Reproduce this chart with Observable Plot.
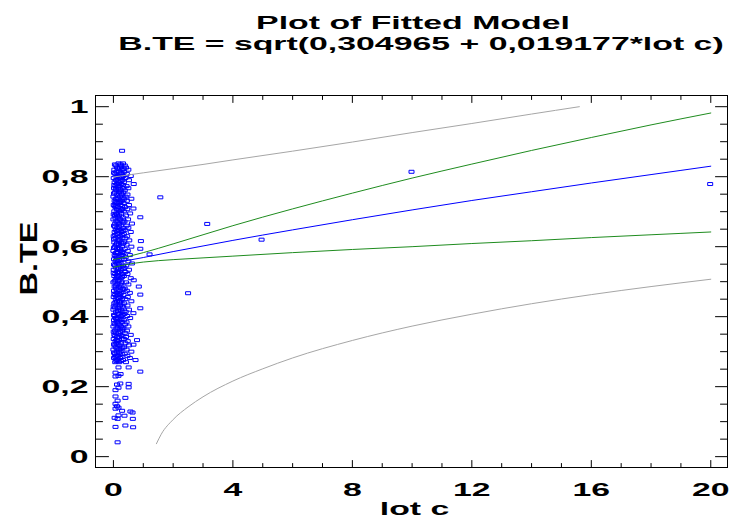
<!DOCTYPE html>
<html><head><meta charset="utf-8">
<script src="https://cdn.jsdelivr.net/npm/d3@7"></script>
<script src="https://cdn.jsdelivr.net/npm/@observablehq/plot@0.6"></script>
<style>
body{margin:0;background:#fff;}
#wrap{width:730px;height:519px;position:relative;overflow:hidden;font-family:"Liberation Sans",Arial,sans-serif;background:#fff;}
#title{position:relative;height:70px;}
.tl{position:absolute;white-space:nowrap;font-weight:bold;font-size:19px;line-height:19px;color:#000;transform:translateX(-50%) scaleX(1.78);transform-origin:center;}
#chart svg{display:block;}
</style></head><body>
<div id="wrap"><div id="title"><div class="tl" id="t1"></div><div class="tl" id="t2"></div></div><div id="chart"></div></div>
<script>
const titleLines = ["Plot of Fitted Model", "B.TE = sqrt(0,304965 + 0,019177*lot c)"];
const xLabel = "lot c";
const yLabel = "B.TE";
const xMajor = [0, 4, 8, 12, 16, 20];
const xMinor = [1, 2, 3, 5, 6, 7, 9, 10, 11, 13, 14, 15, 17, 18, 19];
const yMajor = [0, 0.2, 0.4, 0.6, 0.8, 1];
const yMinor = [0.05, 0.1, 0.15, 0.25, 0.3, 0.35, 0.45, 0.5, 0.55, 0.65, 0.7, 0.75, 0.85, 0.9, 0.95];

// fitted model and limits
const curveX = [0, 0.5, 1, 2, 3, 4, 6, 8, 10, 12, 14, 16, 18, 20];
const fitted = [0.552, 0.561, 0.569, 0.586, 0.602, 0.618, 0.648, 0.677, 0.705, 0.732, 0.757, 0.782, 0.806, 0.830];
const upperConf = [0.563, 0.572, 0.583, 0.608, 0.634, 0.660, 0.708, 0.753, 0.796, 0.836, 0.875, 0.912, 0.948, 0.982];
const lowerConf = [0.541, 0.550, 0.556, 0.563, 0.568, 0.573, 0.583, 0.592, 0.600, 0.609, 0.617, 0.626, 0.634, 0.642];
const upperPredX = [0, 0.5, 1, 2, 3, 4, 6, 8, 10, 12, 14, 15.6];
const upperPred = [0.799, 0.805, 0.811, 0.823, 0.835, 0.848, 0.873, 0.899, 0.926, 0.952, 0.979, 1.0];
const lowerPredX = [1.44, 1.6, 2, 2.5, 3, 4, 5, 6, 8, 10, 12, 14, 16, 18, 20];
const lowerPred = [0.037, 0.064, 0.106, 0.142, 0.171, 0.216, 0.251, 0.282, 0.332, 0.373, 0.407, 0.437, 0.463, 0.486, 0.507];

// observations [lot c, B.TE]
const observations = [
[0.29,0.874],[0.17,0.838],[0.32,0.838],[0.08,0.832],[0.26,0.832],[0.38,0.832],
[0.12,0.826],[0.22,0.826],[0.42,0.826],[0.03,0.820],[0.30,0.820],[0.50,0.820],
[0.10,0.814],[0.20,0.814],[0.36,0.814],[0.06,0.808],[0.27,0.808],[0.45,0.808],
[0.15,0.802],[0.33,0.802],[0.58,0.802],[0.01,0.796],[0.22,0.796],[0.40,0.796],
[0.09,0.790],[0.30,0.790],[0.52,0.790],[0.04,0.784],[0.18,0.784],[0.35,0.784],
[0.12,0.779],[0.26,0.779],[0.68,0.779],[0.07,0.773],[0.21,0.773],[0.44,0.773],
[0.02,0.767],[0.16,0.767],[0.31,0.767],[0.50,0.767],[0.10,0.761],[0.25,0.761],[0.38,0.761],
[0.05,0.755],[0.19,0.755],[0.33,0.755],[0.13,0.749],[0.28,0.749],[0.47,0.749],
[0.00,0.743],[0.22,0.743],[0.41,0.743],[0.08,0.737],[0.17,0.737],[0.36,0.737],[0.60,0.737],
[0.04,0.731],[0.27,0.731],[0.45,0.731],[0.11,0.725],[0.20,0.725],[0.34,0.725],
[0.01,0.719],[0.24,0.719],[0.52,0.719],[0.07,0.713],[0.16,0.713],[0.39,0.713],[0.67,0.709],
[0.12,0.707],[0.30,0.707],[0.46,0.707],[0.03,0.701],[0.21,0.701],[0.35,0.701],
[0.09,0.695],[0.26,0.695],[0.56,0.695],[0.05,0.689],[0.18,0.689],[0.42,0.689],
[0.90,0.684],[0.14,0.684],[0.31,0.684],[0.00,0.678],[0.23,0.678],[0.49,0.678],
[0.10,0.672],[0.28,0.672],[0.37,0.672],[0.06,0.666],[0.19,0.666],[0.62,0.666],
[0.02,0.660],[0.25,0.660],[0.44,0.660],[0.13,0.654],[0.33,0.654],[0.50,0.654],
[0.08,0.648],[0.20,0.648],[0.38,0.648],[0.04,0.642],[0.27,0.642],[0.58,0.642],
[0.11,0.636],[0.17,0.636],[0.35,0.636],[0.01,0.630],[0.23,0.630],[0.46,0.630],
[0.07,0.624],[0.30,0.624],[0.40,0.624],[0.14,0.618],[0.21,0.618],[0.53,0.618],[0.92,0.616],
[0.03,0.612],[0.26,0.612],[0.36,0.612],[0.09,0.606],[0.18,0.606],[0.44,0.606],
[0.05,0.600],[0.29,0.600],[0.60,0.600],[0.12,0.594],[0.22,0.594],[0.38,0.594],[0.90,0.594],
[0.00,0.588],[0.25,0.588],[0.48,0.588],[0.08,0.582],[0.16,0.582],[0.34,0.582],[1.21,0.578],
[0.04,0.576],[0.30,0.576],[0.55,0.576],[0.11,0.570],[0.20,0.570],[0.41,0.570],
[0.02,0.564],[0.27,0.564],[0.36,0.564],[0.07,0.558],[0.15,0.558],[0.50,0.558],
[0.13,0.552],[0.24,0.552],[0.62,0.552],[0.05,0.546],[0.32,0.546],[0.43,0.546],
[0.09,0.540],[0.19,0.540],[0.37,0.540],[0.01,0.534],[0.26,0.534],[0.52,0.534],
[0.12,0.528],[0.22,0.528],[0.40,0.528],[0.06,0.522],[0.30,0.522],[0.47,0.522],
[0.03,0.516],[0.17,0.516],[0.35,0.516],[0.10,0.510],[0.25,0.510],[0.58,0.510],
[0.07,0.504],[0.20,0.504],[0.68,0.504],[0.00,0.498],[0.28,0.498],[0.42,0.498],
[0.13,0.492],[0.23,0.492],[0.50,0.492],[0.04,0.486],[0.18,0.486],[0.85,0.486],
[0.09,0.480],[0.31,0.480],[0.38,0.480],[0.02,0.474],[0.21,0.474],[0.45,0.474],[2.50,0.467],
[0.11,0.468],[0.26,0.468],[0.55,0.468],[0.90,0.463],[0.06,0.462],[0.16,0.462],[0.34,0.462],
[0.01,0.456],[0.24,0.456],[0.48,0.456],[0.08,0.450],[0.29,0.450],[0.40,0.450],
[0.12,0.444],[0.19,0.444],[0.60,0.444],[0.03,0.438],[0.27,0.438],[0.36,0.438],
[0.10,0.432],[0.22,0.432],[0.47,0.432],[0.05,0.426],[0.17,0.426],[0.33,0.426],[0.90,0.424],
[0.00,0.420],[0.25,0.420],[0.52,0.420],[0.09,0.414],[0.30,0.414],[0.41,0.414],[0.67,0.410],
[0.13,0.408],[0.20,0.408],[0.37,0.408],[0.04,0.402],[0.26,0.402],[0.46,0.402],
[0.07,0.396],[0.16,0.396],[0.56,0.396],[0.02,0.390],[0.23,0.390],[0.35,0.390],
[0.11,0.384],[0.28,0.384],[0.44,0.384],[0.06,0.378],[0.19,0.378],[0.39,0.378],
[0.00,0.372],[0.25,0.372],[0.50,0.372],[0.10,0.366],[0.21,0.366],[0.33,0.366],
[0.05,0.360],[0.30,0.360],[0.45,0.360],[0.08,0.354],[0.17,0.354],[0.38,0.354],
[0.03,0.348],[0.24,0.348],[0.58,0.348],[0.12,0.342],[0.20,0.342],[0.42,0.342],
[0.01,0.336],[0.27,0.336],[0.36,0.336],[0.79,0.333],[0.07,0.330],[0.15,0.330],[0.48,0.330],
[0.10,0.324],[0.26,0.324],[0.40,0.324],[0.67,0.320],[0.04,0.318],[0.20,0.318],[0.52,0.318],
[0.08,0.312],[0.30,0.312],[0.35,0.312],[0.00,0.306],[0.18,0.306],[0.44,0.306],
[0.11,0.300],[0.24,0.300],[0.60,0.300],[0.05,0.294],[0.28,0.294],[0.38,0.294],
[0.09,0.288],[0.16,0.288],[0.47,0.288],[0.02,0.282],[0.22,0.282],[0.55,0.282],
[0.13,0.276],[0.32,0.276],[0.74,0.276],[0.06,0.270],[0.19,0.270],[0.42,0.270],
[0.05,0.835],[0.24,0.835],[0.16,0.823],[0.34,0.823],[0.02,0.811],[0.25,0.811],
[0.11,0.799],[0.28,0.799],[0.14,0.787],[0.24,0.787],[0.03,0.776],[0.32,0.776],
[0.08,0.764],[0.21,0.764],[0.02,0.752],[0.26,0.752],[0.13,0.740],[0.31,0.740],
[0.08,0.728],[0.23,0.728],[0.04,0.716],[0.29,0.716],[0.17,0.704],[0.25,0.704],
[0.01,0.692],[0.12,0.692],[0.07,0.681],[0.20,0.681],[0.14,0.669],[0.33,0.669],
[0.05,0.657],[0.18,0.657],[0.13,0.645],[0.31,0.645],[0.06,0.633],[0.28,0.633],
[0.02,0.621],[0.18,0.621],[0.12,0.609],[0.32,0.609],[0.02,0.597],[0.17,0.597],
[0.13,0.585],[0.29,0.585],[0.07,0.573],[0.24,0.573],[0.10,0.561],[0.20,0.561],
[0.02,0.549],[0.18,0.549],[0.15,0.537],[0.31,0.537],[0.01,0.525],[0.16,0.525],
[0.13,0.513],[0.29,0.513],[0.04,0.501],[0.16,0.501],[0.08,0.489],[0.27,0.489],
[0.13,0.477],[0.34,0.477],[0.03,0.465],[0.21,0.465],[0.14,0.453],[0.19,0.453],
[0.07,0.441],[0.22,0.441],[0.01,0.429],[0.30,0.429],[0.15,0.417],[0.20,0.417],
[0.02,0.405],[0.31,0.405],[0.10,0.393],[0.27,0.393],[0.03,0.381],[0.15,0.381],
[0.14,0.369],[0.28,0.369],[0.01,0.357],[0.23,0.357],[0.06,0.345],[0.30,0.345],
[0.11,0.333],[0.19,0.333],[0.02,0.321],[0.14,0.321],[0.13,0.309],[0.24,0.309],
[0.02,0.297],[0.19,0.297],[0.06,0.285],[0.27,0.285],[0.10,0.273],[0.25,0.273],
[0.17,0.255],[0.51,0.255],[0.90,0.243],[0.07,0.240],[0.24,0.236],[0.17,0.231],[0.07,0.229],
[0.23,0.209],[0.51,0.208],[0.12,0.206],[0.51,0.198],[0.17,0.197],[0.07,0.190],
[0.07,0.172],[0.40,0.168],[0.14,0.160],[0.07,0.151],[0.12,0.144],[0.17,0.140],[0.07,0.137],
[0.29,0.131],[0.57,0.129],[0.64,0.126],[0.17,0.118],[0.37,0.117],[0.04,0.111],[0.14,0.108],[0.65,0.108],
[0.40,0.089],[0.07,0.085],[0.66,0.084],[0.14,0.041],
[1.57,0.741],[3.14,0.665],[4.96,0.620],[9.98,0.814],[19.98,0.779]
];

const fmt = d => String(d).replace(".", ",");
const tickShape = {draw(ctx, l) { ctx.moveTo(0, 0); ctx.lineTo(0, -l); }};
const rectSymbol = {draw(ctx) { ctx.rect(-2.5, -1.5, 5, 3); }};
const tickOpts = {anchor: "start", shape: tickShape, stroke: "#000", strokeWidth: 1};

const t1 = document.getElementById("t1"); t1.textContent = titleLines[0]; t1.style.left = "413px"; t1.style.top = "13px";
const t2 = document.getElementById("t2"); t2.textContent = titleLines[1]; t2.style.left = "421px"; t2.style.top = "34px";

const plot = Plot.plot({
  width: 730, height: 449,
  marginTop: 25, marginBottom: 52, marginLeft: 95, marginRight: 3,
  x: {domain: [-0.6, 20.56]},
  y: {domain: [-0.031, 1.032]},
  style: {fontFamily: "Liberation Sans, Arial, sans-serif", fontSize: "19px", fontWeight: "bold", color: "#000", background: "#fff"},
  marks: [
    Plot.dot(observations, {x: d => d[0], y: d => d[1], symbol: rectSymbol, fill: "none", stroke: "#0000ff", strokeWidth: 1}),
    Plot.line(upperPredX, {x: upperPredX, y: upperPred, stroke: "#a6a6a6", strokeWidth: 1, curve: "monotone-x"}),
    Plot.line(lowerPredX, {x: lowerPredX, y: lowerPred, stroke: "#a6a6a6", strokeWidth: 1, curve: "monotone-x"}),
    Plot.line(curveX, {x: curveX, y: upperConf, stroke: "#1f8c1f", strokeWidth: 1, curve: "monotone-x"}),
    Plot.line(curveX, {x: curveX, y: lowerConf, stroke: "#1f8c1f", strokeWidth: 1, curve: "monotone-x"}),
    Plot.line(curveX, {x: curveX, y: fitted, stroke: "#0000ff", strokeWidth: 1, curve: "monotone-x"}),
    Plot.frame({stroke: "#000", strokeWidth: 1}),
    Plot.vector(xMajor, {x: d => d, frameAnchor: "bottom", rotate: 0, length: 7, ...tickOpts}),
    Plot.vector(xMinor, {x: d => d, frameAnchor: "bottom", rotate: 0, length: 4, ...tickOpts}),
    Plot.vector(xMajor, {x: d => d, frameAnchor: "top", rotate: 180, length: 7, ...tickOpts}),
    Plot.vector(xMinor, {x: d => d, frameAnchor: "top", rotate: 180, length: 4, ...tickOpts}),
    Plot.vector(yMajor, {y: d => d, frameAnchor: "left", rotate: 90, length: 13, ...tickOpts}),
    Plot.vector(yMinor, {y: d => d, frameAnchor: "left", rotate: 90, length: 7, ...tickOpts}),
    Plot.vector(yMajor, {y: d => d, frameAnchor: "right", rotate: -90, length: 12, ...tickOpts}),
    Plot.vector(yMinor, {y: d => d, frameAnchor: "right", rotate: -90, length: 7, ...tickOpts}),
    Plot.axisX({ticks: xMajor, tickSize: 0, tickPadding: 15, tickFormat: fmt, label: null}),
    Plot.axisY({ticks: yMajor, tickSize: 0, tickPadding: 7, tickFormat: fmt, label: null}),
    Plot.text([xLabel], {text: d => d, frameAnchor: "bottom", dx: 3, dy: 47, lineAnchor: "bottom", fill: "#000"}),
    Plot.text([yLabel], {text: d => d, frameAnchor: "left", dx: -66, dy: 14, rotate: -90, fontSize: 24, fill: "#000"})
  ]
});
document.getElementById("chart").append(plot);
plot.querySelectorAll("text").forEach(t => {
  const w = t.getComputedTextLength();
  const k = t.textContent === yLabel ? 1.35 : 1.78;
  t.setAttribute("textLength", (w * k).toFixed(1));
  t.setAttribute("lengthAdjust", "spacingAndGlyphs");
});
</script>
</body></html>
